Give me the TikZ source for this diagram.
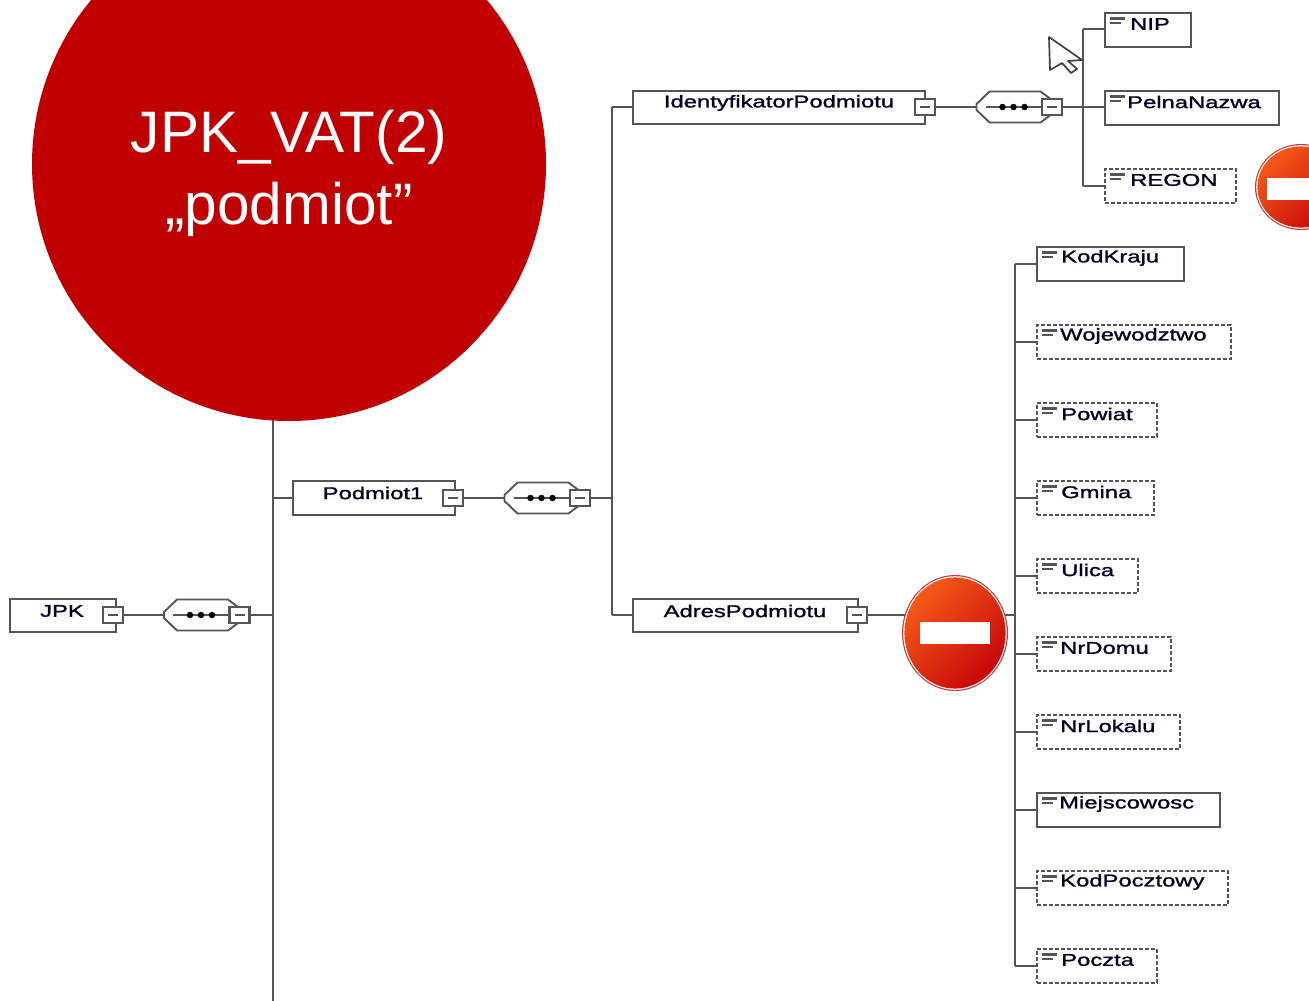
\documentclass[tikz,border=0pt]{standalone}
\usepackage{fontspec}
\setmainfont{Liberation Sans}
\newfontfamily\elfont[FakeStretch=1.40,FakeBold=1.4]{Liberation Sans}
\usetikzlibrary{calc}
\definecolor{linegray}{RGB}{85,85,85}
\definecolor{titlered}{RGB}{192,0,0}
\definecolor{signtop}{RGB}{245,90,25}
\definecolor{signmid}{RGB}{232,52,14}
\definecolor{signbot}{RGB}{198,6,10}
\definecolor{cursorline}{RGB}{60,62,85}
\tikzset{
  conn/.style={draw=linegray,line width=2.1pt},
  elbox/.style={draw=linegray,line width=2.2pt,fill=white,anchor=north west,minimum height=34pt,inner sep=0pt,outer sep=0pt},
  optbox/.style={elbox,dash pattern=on 4pt off 2pt,line width=1.9pt},
  eltext/.style={anchor=west,inner sep=0pt,font=\elfont\fontsize{17}{17}\selectfont,text=black!85!blue},
  seqanchor/.style={minimum width=74pt,minimum height=31pt,inner sep=0pt,outer sep=0pt},
  seqoutline/.style={draw=linegray,line width=1.9pt,fill=white,line join=round},
  minusbox/.style={draw=linegray,line width=2.2pt,fill=white,minimum width=20pt,minimum height=16pt,inner sep=0pt,outer sep=0pt},
  seqdot/.style={circle,fill=black,minimum size=6.5pt,inner sep=0pt},
  signbar/.style={fill=white,draw=none},
  titletext/.style={text=white,font=\fontsize{58.5}{58.5}\selectfont,inner sep=0pt}
}
% name, left, top, width, box style, text, text offset
\newcommand{\xsdel}[7]{%
  \node[#5,minimum width=#4pt] (#1) at (#2,#3) {};
  \draw[linegray,line width=2.4pt] ([xshift=5pt,yshift=-5.5pt]#1.north west) -- ++(15,0);
  \draw[linegray,line width=2.4pt] ([xshift=5pt,yshift=-10pt]#1.north west) -- ++(11,0);
  \node[eltext] (#1-t) at ([xshift=#7pt,yshift=-11pt]#1.north west) {#6};
}
% name, centre x, centre y
\newcommand{\xsminus}[3]{%
  \node[minusbox] (#1) at (#2,#3) {};
  \draw[linegray,line width=1.3pt] ([xshift=-5pt]#1.center) -- ([xshift=5pt]#1.center);
}
% name, centre x, centre y
\newcommand{\xsseq}[3]{%
  \node[seqanchor] (#1) at (#2,#3) {};
  \draw[seqoutline]
    ($(#1.west)+(0,-3)$) -- ($(#1.north west)+(13,0)$) -- ($(#1.north east)+(-10,0)$)
    -- ($(#1.east)+(4,-5)$) -- ($(#1.east)+(4,5)$) -- ($(#1.south east)+(-10,0)$)
    -- ($(#1.south west)+(13,0)$) -- ($(#1.west)+(0,3)$) -- cycle;
  \draw[linegray,line width=1.3pt] ([xshift=-28pt]#1.center) -- ([xshift=32pt]#1.center);
  \node[seqdot] (#1-d1) at ([xshift=-11pt]#1.center) {};
  \node[seqdot] (#1-d2) at (#1.center) {};
  \node[seqdot] (#1-d3) at ([xshift=11pt]#1.center) {};
  \xsminus{#1-m}{#2+38.5}{#3}
}
% name, left, top, width, height, text, text centre x
\newcommand{\xsparent}[7]{%
  \node[elbox,minimum width=#4pt,minimum height=#5pt] (#1) at (#2,#3) {};
  \node[eltext,anchor=center] (#1-t) at (#7,#3+12) {#6};
}
\newcommand{\stopsign}[7]{%
  \fill[signbot!80!white] (#1,#2) ellipse [x radius=#3pt,y radius=#4pt];
  \fill[white] (#1,#2) ellipse [x radius=#3pt-1.2pt,y radius=#4pt-1.2pt];
  \shade[top color=signtop,middle color=signmid,bottom color=signbot,shading angle=45] (#1,#2) ellipse [x radius=#3pt-2.4pt,y radius=#4pt-2.4pt];
  \fill[signbar] (#5,#7) rectangle (#6,#7+22);
}
\begin{document}
\begin{tikzpicture}[x=1pt,y=-1pt]
\useasboundingbox (0,0) rectangle (1309,1001);
\fill[white] (0,0) rectangle (1309,1001);

% trunk coordinates
\coordinate (trunkA-top) at (273,400);
\coordinate (trunkA-bot) at (273,1001);
\coordinate (trunkB-top) at (612,107);
\coordinate (trunkB-bot) at (612,615);
\coordinate (trunkC-top) at (1083,29);
\coordinate (trunkC-bot) at (1083,186);
\coordinate (trunkD-top) at (1015,264);
\coordinate (trunkD-bot) at (1015,966);

% structure nodes
\xsparent{jpk}{10}{599}{106}{33}{JPK}{62}
\xsminus{jpk-m}{113}{615}
\xsparent{podmiot}{293}{481}{162}{34}{Podmiot1}{373}
\xsminus{podmiot-m}{453}{498}
\xsparent{ident}{633}{91}{292}{33}{IdentyfikatorPodmiotu}{779}
\xsminus{ident-m}{925}{107}
\xsparent{adres}{633}{599}{225}{33}{AdresPodmiotu}{745}
\xsminus{adres-m}{857}{615}

% leaf nodes
\xsdel{nip}{1105}{13}{86}{elbox}{NIP}{25}
\xsdel{pelna}{1105}{91}{174}{elbox}{PelnaNazwa}{22}
\xsdel{regon}{1105}{169}{131}{optbox}{REGON}{25}
\xsdel{kodkraju}{1037}{247}{147}{elbox}{KodKraju}{24}
\xsdel{woj}{1037}{325}{194}{optbox}{Wojewodztwo}{23}
\xsdel{powiat}{1037}{403}{120}{optbox}{Powiat}{24}
\xsdel{gmina}{1037}{481}{117}{optbox}{Gmina}{24}
\xsdel{ulica}{1037}{559}{101}{optbox}{Ulica}{24}
\xsdel{nrdomu}{1037}{637}{134}{optbox}{NrDomu}{23}
\xsdel{nrlokalu}{1037}{715}{143}{optbox}{NrLokalu}{23}
\xsdel{miejsc}{1037}{793}{183}{elbox}{Miejscowosc}{22}
\xsdel{kodpoczt}{1037}{871}{191}{optbox}{KodPocztowy}{23}
\xsdel{poczta}{1037}{949}{120}{optbox}{Poczta}{24}

% sequence compositors
\xsseq{seqa}{201}{615}
\xsseq{seqb}{541.5}{498}
\xsseq{seqc}{1013.5}{107}

% connectors
\draw[conn] (trunkA-top) -- (trunkA-bot);
\draw[conn] (trunkB-top) -- (trunkB-bot);
\draw[conn] (trunkC-top) -- (trunkC-bot);
\draw[conn] (trunkD-top) -- (trunkD-bot);
\draw[conn] (jpk-m.east) -- (seqa.west);
\draw[conn] (seqa-m.east) -- (trunkA-top |- seqa-m.east);
\draw[conn] (trunkA-top |- podmiot.west) -- (podmiot.west);
\draw[conn] (podmiot-m.east) -- (seqb.west);
\draw[conn] (seqb-m.east) -- (trunkB-top |- seqb-m.east);
\draw[conn] (trunkB-top) -- (trunkB-top -| ident.west);
\draw[conn] (trunkB-bot) -- (trunkB-bot -| adres.west);
\draw[conn] (ident-m.east) -- (seqc.west);
\draw[conn] (seqc-m.east) -- (pelna.west |- seqc-m.east);
\draw[conn] (trunkC-top) -- (trunkC-top -| nip.west);
\draw[conn] (trunkC-bot) -- (trunkC-bot -| regon.west);
\draw[conn] (adres-m.east) -- (trunkD-top |- adres-m.east);
\foreach \n in {kodkraju,woj,powiat,gmina,ulica,nrdomu,nrlokalu,miejsc,kodpoczt,poczta}{
  \draw[conn] (trunkD-top |- \n.west) -- (\n.west);
}

% title circle
\fill[titlered] (289,164) circle [radius=257pt];
\node[titletext] (title1) at (289,137) {JPK\_VAT(2)};
\node[titletext] (title2) at (289,209) {„podmiot”};

% stop signs
\stopsign{955}{633}{53}{58}{920}{990}{622}
\stopsign{1301}{187}{46}{43}{1267}{1320}{178}

% cursor
\draw[fill=white,draw=cursorline,line width=1.7pt,line join=round]
  (1049,37) -- (1082,60) -- (1068,61) -- (1077,69) -- (1071,73) -- (1062,63) -- (1050,70) -- cycle;
\end{tikzpicture}
\end{document}
